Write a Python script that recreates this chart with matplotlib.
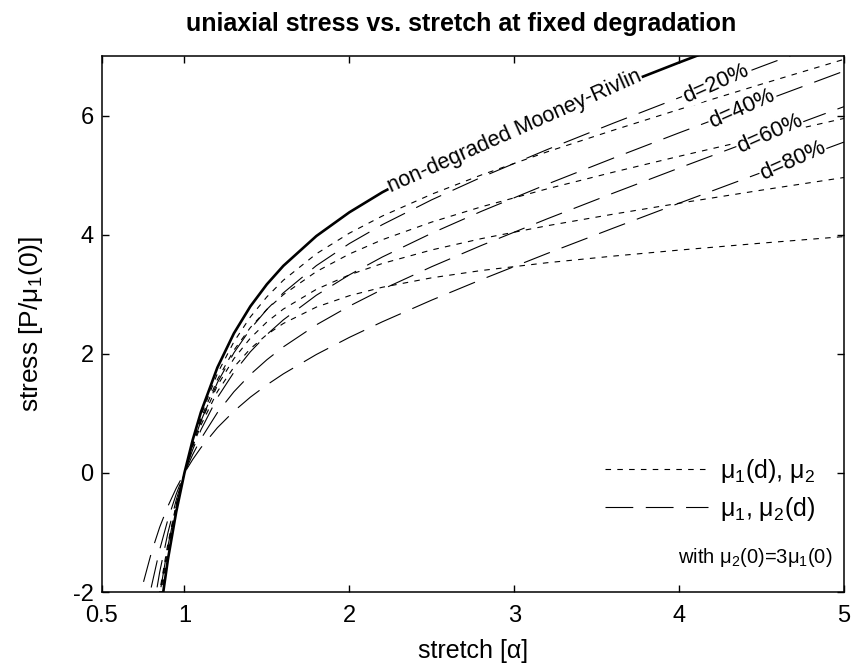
import matplotlib
matplotlib.use("Agg")
import matplotlib.pyplot as plt
from matplotlib.lines import Line2D

plt.rcParams['font.family'] = ['Liberation Sans', 'DejaVu Sans']
plt.rcParams['mathtext.default'] = 'regular'
plt.rcParams['lines.scale_dashes'] = False
plt.rcParams['axes.unicode_minus'] = False

# stretch values shared by all curves
stretch = [0.70, 0.75, 0.80, 0.85, 0.90, 0.95, 1.00, 1.05, 1.10, 1.20, 1.30, 1.40,
           1.50, 1.60, 1.80, 2.00, 2.20, 2.50, 2.80, 3.20, 3.60, 4.00, 4.50, 5.00]

# non-degraded Mooney-Rivlin
mr0 = [-7.087, -5.139, -3.622, -2.419, -1.450, -0.657, 0.0, 0.552, 1.020, 1.770, 2.343, 2.797,
       3.167, 3.477, 3.977, 4.375, 4.712, 5.148, 5.536, 6.011, 6.458, 6.891, 7.418, 7.936]

# mu1(d), mu2  (short dashes)
mu1d_20 = [-6.819, -4.933, -3.469, -2.312, -1.383, -0.625, 0.0, 0.523, 0.965, 1.669, 2.201, 2.619,
           2.956, 3.235, 3.679, 4.025, 4.313, 4.680, 5.002, 5.391, 5.753, 6.103, 6.528, 6.944]
mu1d_40 = [-6.551, -4.728, -3.317, -2.205, -1.316, -0.594, 0.0, 0.495, 0.911, 1.568, 2.060, 2.441,
           2.745, 2.993, 3.380, 3.675, 3.915, 4.212, 4.467, 4.770, 5.049, 5.316, 5.638, 5.952]
mu1d_60 = [-6.283, -4.522, -3.164, -2.099, -1.249, -0.562, 0.0, 0.466, 0.856, 1.467, 1.918, 2.263,
           2.534, 2.751, 3.082, 3.325, 3.516, 3.744, 3.933, 4.150, 4.344, 4.528, 4.748, 4.960]
mu1d_80 = [-6.014, -4.317, -3.012, -1.992, -1.182, -0.531, 0.0, 0.438, 0.801, 1.366, 1.776, 2.085,
           2.323, 2.509, 2.784, 2.975, 3.117, 3.276, 3.398, 3.529, 3.640, 3.741, 3.858, 3.968]

# mu1, mu2(d)  (long dashes)
mu2d_20 = [-5.938, -4.317, -3.050, -2.042, -1.227, -0.557, 0.0, 0.470, 0.871, 1.517, 2.016, 2.416,
           2.745, 3.023, 3.480, 3.850, 4.168, 4.586, 4.963, 5.429, 5.871, 6.300, 6.825, 7.341]
mu2d_40 = [-4.789, -3.495, -2.478, -1.665, -1.004, -0.457, 0.0, 0.389, 0.722, 1.264, 1.689, 2.034,
           2.323, 2.570, 2.983, 3.325, 3.625, 4.025, 4.391, 4.848, 5.284, 5.710, 6.231, 6.746]
mu2d_60 = [-3.639, -2.672, -1.906, -1.288, -0.781, -0.358, 0.0, 0.307, 0.572, 1.012, 1.362, 1.653,
           1.900, 2.116, 2.486, 2.800, 3.081, 3.463, 3.818, 4.266, 4.697, 5.119, 5.638, 6.150]
mu2d_80 = [-2.490, -1.850, -1.335, -0.911, -0.558, -0.258, 0.0, 0.225, 0.423, 0.759, 1.035, 1.272,
           1.478, 1.663, 1.988, 2.275, 2.537, 2.902, 3.245, 3.684, 4.109, 4.528, 5.044, 5.555]

short_dash = (4, 4.5)
long_dash = (20, 9)

fig = plt.figure(figsize=(8.52, 6.66), dpi=100)
ax = fig.add_axes([0.1197, 0.1111, 0.8709, 0.8048])

for y in [mu1d_20, mu1d_40, mu1d_60, mu1d_80]:
    ax.plot(stretch, y, color='black', lw=0.8, dashes=short_dash)
for y in [mu2d_20, mu2d_40, mu2d_60, mu2d_80]:
    ax.plot(stretch, y, color='black', lw=0.8, dashes=long_dash)
ax.plot(stretch, mr0, color='black', lw=1.9)

box = dict(facecolor='white', edgecolor='none', pad=0.5)
ax.text(3.0, 5.74, 'non-degraded Mooney-Rivlin', fontsize=15.5, rotation=24,
        ha='center', va='center', rotation_mode='anchor', bbox=box, zorder=5)
for xl, yl, s in [(4.22, 6.53, 'd=20%'), (4.38, 6.11, 'd=40%'),
                  (4.55, 5.69, 'd=60%'), (4.69, 5.24, 'd=80%')]:
    ax.text(xl, yl, s, fontsize=16, rotation=24, ha='center', va='center',
            rotation_mode='anchor', bbox=box, zorder=5)

handles = [Line2D([], [], color='black', lw=0.8, dashes=short_dash),
           Line2D([], [], color='black', lw=0.8, dashes=long_dash)]
ax.legend(handles, [r'$\mu_1$(d), $\mu_2$', r'$\mu_1$, $\mu_2$(d)'],
          loc='center left', bbox_to_anchor=(0.678, 0.19), frameon=False,
          fontsize=18, handlelength=4.1, handletextpad=0.5, borderpad=0,
          borderaxespad=0, labelspacing=0.4)
ax.text(0.984, 0.065, r'with $\mu_2$(0)=3$\mu_1$(0)', transform=ax.transAxes,
        fontsize=14.5, ha='right', va='center')

ax.set_xlim(0.5, 5)
ax.set_ylim(-2, 7)
ax.set_xticks([0.5, 1, 2, 3, 4, 5])
ax.set_xticklabels(['0.5', '1', '2', '3', '4', '5'])
ax.set_yticks([-2, 0, 2, 4, 6])
ax.tick_params(direction='in', top=True, right=True, length=5, width=1,
               labelsize=17)
ax.tick_params(axis='x', pad=9)
ax.tick_params(axis='y', pad=6)
for sp in ax.spines.values():
    sp.set_linewidth(1.1)

ax.set_xlabel('stretch [α]', fontsize=18, labelpad=9)
ax.set_ylabel(r'stress [P/$\mu_1$(0)]', fontsize=19, labelpad=20)
ax.set_title('uniaxial stress vs. stretch at fixed degradation', fontsize=18,
             fontweight='bold', pad=18, x=0.484)

fig.savefig('out.png', dpi=100)
